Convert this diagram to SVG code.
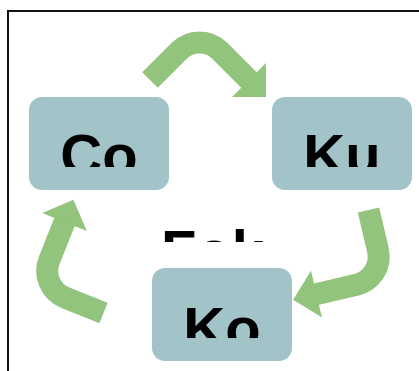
<svg xmlns="http://www.w3.org/2000/svg" width="419" height="371" viewBox="0 0 419 371">
  <style>
    .box { fill: #a2c4c9; }
    .label { font-family: "Liberation Sans", Arial, Helvetica, sans-serif; font-weight: bold; font-size: 58px; fill: #000; text-anchor: middle; }
    .flow { fill: none; stroke: #93c47d; stroke-width: 22; stroke-linecap: butt; stroke-linejoin: round; marker-end: url(#head); }
  </style>
  <defs>
    <!-- wide right-angled arrowhead, sized in user units -->
    <marker id="head" markerUnits="userSpaceOnUse" orient="auto" refX="1" refY="0" markerWidth="26" markerHeight="50" viewBox="0 -25 26 50" overflow="visible">
      <path d="M0,-24 L24,0 L0,24 Z" fill="#93c47d"/>
    </marker>
    <!-- labels only show their upper part -->
    <clipPath id="clip-co" clipPathUnits="userSpaceOnUse"><rect x="29" y="97" width="140" height="70"/></clipPath>
    <clipPath id="clip-ku" clipPathUnits="userSpaceOnUse"><rect x="272" y="97" width="140" height="70"/></clipPath>
    <clipPath id="clip-ko" clipPathUnits="userSpaceOnUse"><rect x="152" y="268" width="140" height="70"/></clipPath>
    <clipPath id="clip-fok" clipPathUnits="userSpaceOnUse"><rect x="140" y="200" width="150" height="42"/></clipPath>
  </defs>

  <rect x="0" y="0" width="419" height="371" fill="#fff"/>
  <!-- frame, open towards the right and bottom edges -->
  <rect x="8" y="11" width="520" height="480" fill="none" stroke="#111" stroke-width="2"/>

  <g id="connectors">
    <path id="co-to-ku" class="flow" d="M150,80 L179,51 A29,29 0 0 1 220,51 L249.7,80.7"/>
    <path id="ku-to-ko" class="flow" d="M368.5,210 L377.9,249.9 A29,29 0 0 1 356.4,284.8 L315.5,294.4"/>
    <path id="ko-to-co" class="flow" d="M103.5,313 L65.4,297.8 A29,29 0 0 1 49.3,260.1 L64.9,221.1"/>
  </g>

  <g id="node-co">
    <rect class="box" x="29" y="97" width="140" height="93" rx="13"/>
    <text class="label" x="99" y="175" clip-path="url(#clip-co)">Co</text>
  </g>
  <g id="node-ku">
    <rect class="box" x="272" y="97" width="140" height="93" rx="13"/>
    <text class="label" x="342" y="175" clip-path="url(#clip-ku)">Ku</text>
  </g>
  <g id="node-ko">
    <rect class="box" x="152" y="268" width="140" height="93" rx="13"/>
    <text class="label" x="222" y="348" clip-path="url(#clip-ko)">Ko</text>
  </g>
  <g id="center-label">
    <text class="label" x="212.5" y="271" clip-path="url(#clip-fok)">Fok</text>
  </g>
</svg>
